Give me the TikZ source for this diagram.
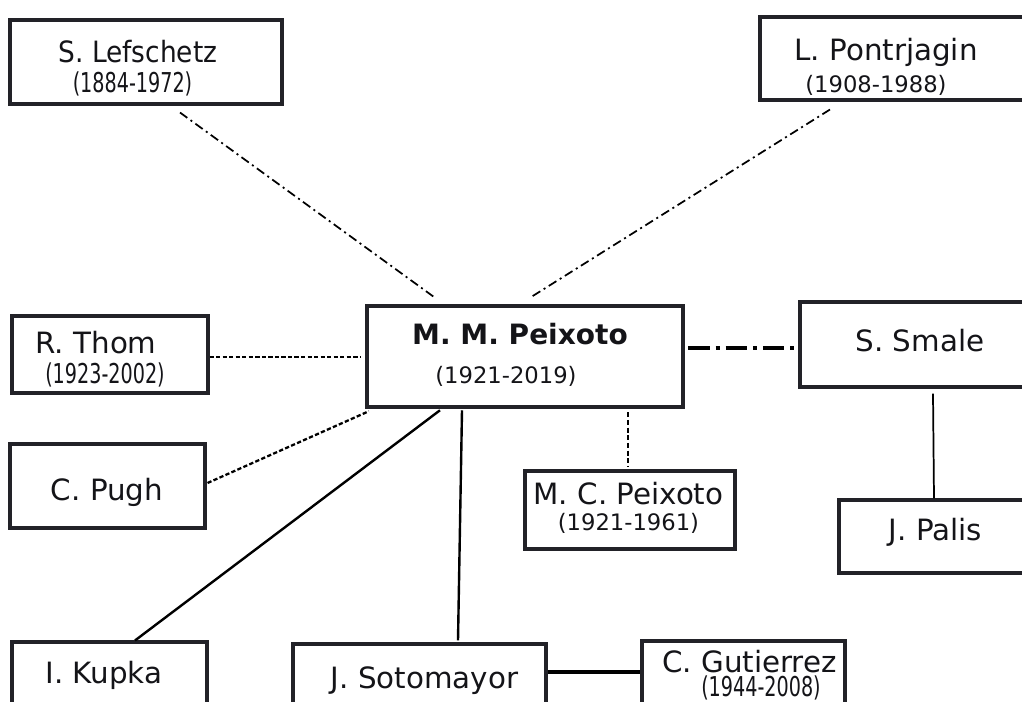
\documentclass[tikz,border=0pt]{standalone}
\usepackage{fontspec}
\setmainfont{DejaVu Sans}
\newfontfamily\condfont{DejaVu Sans Condensed}
\newfontfamily\narrowfont{DejaVu Sans Condensed}[FakeStretch=0.78]
\usetikzlibrary{calc,fit}
\definecolor{boxgray}{RGB}{34,34,40}
\definecolor{inkgray}{RGB}{20,20,24}

\begin{document}
\begin{tikzpicture}[x=0.75pt,y=-0.75pt,
    box/.style={draw=boxgray,line width=2.3pt,inner sep=0pt},
    mainbox/.style={box,line width=3.4pt},
    person/.style={anchor=base,inner sep=0pt,text=inkgray,font=\fontsize{22}{26}\selectfont},
    cperson/.style={person,font=\condfont\fontsize{22}{26}\selectfont},
    bperson/.style={person,font=\bfseries\fontsize{21}{25}\selectfont},
    dates/.style={anchor=base,inner sep=0pt,text=inkgray,font=\fontsize{17}{20}\selectfont},
    ndates/.style={dates,font=\narrowfont\fontsize{20.5}{23}\selectfont},
    dashdot/.style={line width=1.3pt,dash pattern=on 6.75pt off 3pt on 1.5pt off 3pt},
    thickdashdot/.style={line width=2.5pt,dash pattern=on 16pt off 4.5pt on 3pt off 4.5pt},
    densedash/.style={line width=1.7pt,dash pattern=on 3.2pt off 1.7pt},
    thindash/.style={line width=1.3pt,dash pattern=on 3.75pt off 2pt},
    link/.style={line width=1.8pt}]
    \useasboundingbox (0,0) rectangle (1022,702);

    % boxes
    \node[box,fit={(10,20) (282,104)}] (lef) {};
    \node[box,fit={(760,17) (1040,100)}] (pon) {};
    \node[mainbox,fit={(367,306) (683,407)}] (mmp) {};
    \node[box,fit={(12,316) (208,393)}] (thom) {};
    \node[box,fit={(10,444) (205,528)}] (pugh) {};
    \node[box,fit={(525,471) (735,549)}] (mcp) {};
    \node[box,fit={(800,302) (1040,387)}] (smale) {};
    \node[box,fit={(839,500) (1040,573)}] (palis) {};
    \node[box,fit={(12,642) (207,722)}] (kupka) {};
    \node[box,fit={(293,644) (546,724)}] (soto) {};
    \node[box,fit={(642,641) (845,721)}] (gut) {};

    % names and years
    \node[cperson] (lefN) at (138,63) {S. Lefschetz};
    \node[ndates] (lefD) at (132.5,93) {(1884-1972)};
    \node[person] (ponN) at (886,61) {L. Pontrjagin};
    \node[dates] (ponD) at (876,93) {(1908-1988)};
    \node[bperson] (mmpN) at (520,345) {M. M. Peixoto};
    \node[dates] (mmpD) at (506,384) {(1921-2019)};
    \node[person] (thomN) at (96,354) {R. Thom};
    \node[ndates] (thomD) at (105,384) {(1923-2002)};
    \node[person] (pughN) at (107,500) {C. Pugh};
    \node[person] (mcpN) at (628.5,504) {M. C. Peixoto};
    \node[dates] (mcpD) at (628.5,531) {(1921-1961)};
    \node[person] (smaleN) at (920,352) {S. Smale};
    \node[person] (palisN) at (935.5,541) {J. Palis};
    \node[person] (kupkaN) at (104,683) {I. Kupka};
    \node[person] (sotoN) at (424.5,688) {J. Sotomayor};
    \node[person] (gutN) at (749.5,672) {C. Gutierrez};
    \node[ndates] (gutD) at (761,696) {(1944-2008)};

    % links
    \draw[dashdot] ($(lef.south)+(34,7)$) -- ($(mmp.north)+(-90,-6)$);
    \draw[dashdot] ($(pon.south)+(-70,8)$) -- ($(mmp.north)+(5,-6)$);
    \draw[densedash] ($(thom.east)+(0,2.5)$) -- ($(mmp.west)+(-4,0.5)$);
    \draw[densedash] ($(pugh.east)+(1,-3)$) -- ($(mmp.south west)+(4,2)$);
    \draw[thickdashdot] ($(mmp.east)+(3,-8.5)$) -- ($(smale.west)+(0,3.5)$);
    \draw[thindash] ($(mmp.south)+(103,3)$) -- ($(mcp.north)+(-2,-2)$);
    \draw[link] ($(mmp.south)+(-85,1)$) -- ($(kupka.north)+(25.5,0)$);
    \draw[link] ($(mmp.south)+(-63,1)$) -- ($(soto.north)+(38.5,-2)$);
    \draw[line width=1.3pt] ($(smale.south)+(13,5)$) -- ($(palis.north)+(-5.5,0)$);
    \draw[line width=2.6pt] ($(soto.east)+(0,-12)$) -- ($(gut.west)+(0,-9)$);
\end{tikzpicture}
\end{document}
